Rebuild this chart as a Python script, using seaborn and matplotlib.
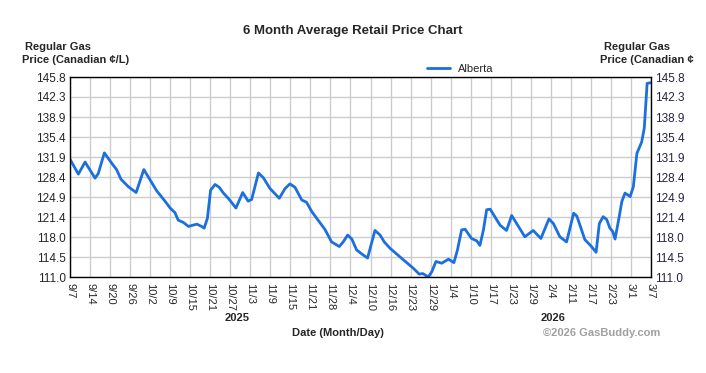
import numpy as np
import pandas as pd
import seaborn as sns
import matplotlib.pyplot as plt

# days since 9/7/2025
day = [0, 2.6, 4.7, 7.8, 8.8, 10.7, 13.0, 14.5, 15.9, 18.2, 20.6, 23.0, 27.0, 29.6,
       31.2, 32.7, 33.7, 35.3, 36.9, 39.5, 41.0, 41.8, 42.8, 43.8, 45.2, 46.5, 47.8,
       49.6, 51.7, 53.8, 55.5, 56.6, 58.7, 60.2, 62.3, 65.2, 67.0, 68.5, 70.1, 72.2,
       73.7, 75.3, 77.4, 79.4, 81.5, 83.9, 85.1, 86.5, 87.8, 89.3, 91.4, 92.7, 95.0,
       96.6, 97.9, 99.7, 102.8, 107.0, 108.8, 109.9, 111.6, 112.7, 114.0, 115.8,
       117.9, 119.6, 120.7, 122.0, 123.1, 125.1, 126.7, 127.7, 128.8, 129.8, 130.9,
       134.0, 136.0, 137.6, 139.7, 141.7, 144.3, 146.7, 149.2, 150.6, 152.6, 154.7,
       156.9, 157.9, 160.4, 162.3, 163.9, 164.9, 166.1, 167.2, 168.2, 169.1, 169.8,
       171.1, 171.9, 172.9, 174.5, 175.5, 176.6, 178.1, 178.9, 179.8, 180.9]
price = [131.5, 128.9, 131.0, 128.2, 129.0, 132.6, 130.8, 129.7, 128.0, 126.7, 125.7,
         129.7, 126.0, 124.2, 123.0, 122.2, 120.9, 120.5, 119.8, 120.2, 119.8, 119.5,
         121.2, 126.1, 127.1, 126.6, 125.6, 124.5, 123.0, 125.7, 124.2, 124.5, 129.1,
         128.3, 126.4, 124.7, 126.4, 127.2, 126.6, 124.4, 124.0, 122.4, 120.8, 119.3,
         117.1, 116.3, 117.1, 118.3, 117.6, 115.7, 114.8, 114.3, 119.1, 118.3, 117.1,
         116.0, 114.5, 112.5, 111.5, 111.6, 111.0, 111.9, 113.7, 113.4, 114.1, 113.5,
         115.7, 119.2, 119.3, 117.7, 117.3, 116.5, 119.2, 122.7, 122.8, 120.0, 119.1,
         121.7, 119.8, 118.0, 119.1, 117.7, 121.1, 120.3, 118.0, 117.1, 122.1, 121.6,
         117.5, 116.4, 115.3, 120.3, 121.5, 121.0, 119.5, 118.9, 117.6, 121.5, 124.1,
         125.6, 125.0, 126.7, 132.5, 134.5, 136.9, 144.7, 144.8]

x_labels = ['9/7', '9/14', '9/20', '9/26', '10/2', '10/9', '10/15', '10/21', '10/27',
            '11/3', '11/9', '11/15', '11/21', '11/28', '12/4', '12/10', '12/16',
            '12/23', '12/29', '1/4', '1/10', '1/17', '1/23', '1/29', '2/4', '2/11',
            '2/17', '2/23', '3/1', '3/7']
y_labels = ['111.0', '114.5', '118.0', '121.4', '124.9', '128.4', '131.9', '135.4',
            '138.9', '142.3', '145.8']

df = pd.DataFrame({'day': day, 'price': price})

sns.set_style('white')
plt.rcParams['font.family'] = ['Liberation Sans', 'DejaVu Sans']

W, H = 706, 373
fig = plt.figure(figsize=(W / 100, H / 100), dpi=100)
ax = fig.add_axes([70 / W, 1 - 277 / H, 581 / W, 200 / H])

sns.lineplot(data=df, x='day', y='price', ax=ax, color='#1b6fde', linewidth=2.0,
             label='Alberta')

xt = np.linspace(0, 181, len(x_labels))
yt = np.linspace(111.0, 145.8, len(y_labels))
ax.set_xlim(0, 181)
ax.set_ylim(111.0, 145.8)
ax.set_xticks(xt)
ax.set_xticklabels(x_labels, rotation=-90, va='top', ha='center', fontsize=8)
ax.set_yticks(yt)
ax.set_yticklabels(y_labels, fontsize=8.5)
ax.tick_params(axis='x', length=0, pad=4)
ax.tick_params(axis='y', length=0, pad=3, right=True, labelright=True)
for lbl in ax.get_yticklabels()[len(y_labels):]:
    lbl.set_color('#2a2244')
ax.grid(True, color='#cccccc', linewidth=1)
ax.set_xlabel('')
ax.set_ylabel('')
for s in ax.spines.values():
    s.set_color('black')
    s.set_linewidth(1.0)

ax.legend(loc='center left', bbox_to_anchor=(0.615, 1.04), frameon=False,
          fontsize=8, handlelength=2, handletextpad=0.8, borderpad=0, borderaxespad=0)


def ftext(x, y, s, **kw):
    fig.text(x / W, 1 - y / H, s, va='center', **kw)


ftext(353, 31, '6 Month Average Retail Price Chart', ha='center', fontsize=9.5, fontweight='bold')
ftext(25, 47, 'Regular Gas', ha='left', fontsize=8, fontweight='bold')
ftext(22, 60, 'Price (Canadian ¢/L)', ha='left', fontsize=8, fontweight='bold')
ftext(604, 47, 'Regular Gas', ha='left', fontsize=8, fontweight='bold')
ftext(600, 60, 'Price (Canadian ¢', ha='left', fontsize=8, fontweight='bold')
ftext(237, 318, '2025', ha='center', fontsize=8, fontweight='bold')
ftext(553, 318, '2026', ha='center', fontsize=8, fontweight='bold')
ftext(338, 333, 'Date (Month/Day)', ha='center', fontsize=8, fontweight='bold')
ftext(543, 333, '©2026 GasBuddy.com', ha='left', fontsize=8, fontweight='bold', color='#a0a0a0')

fig.savefig('out.png', dpi=100)
